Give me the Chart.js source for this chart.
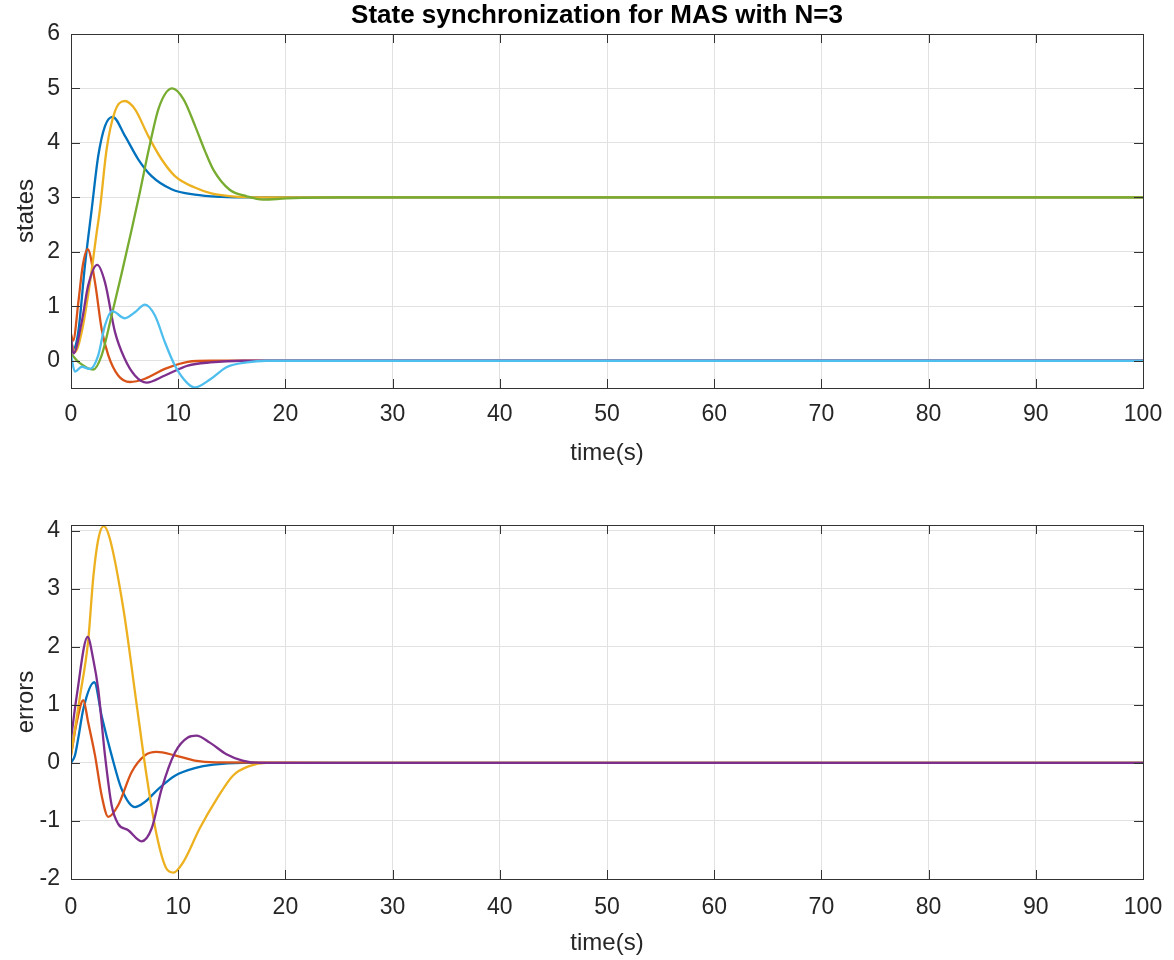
<!DOCTYPE html>
<html>
<head>
<meta charset="utf-8">
<script src="https://cdn.jsdelivr.net/npm/chart.js@4.4.1/dist/chart.umd.min.js"></script>
<style>
    html, body { margin: 0; padding: 0; background: #fff; overflow: hidden; }
    .panel { position: absolute; left: 0; width: 1174px; }
    #top-panel { top: 0; height: 480px; }
    #bottom-panel { top: 490px; height: 470px; }
</style>
</head>
<body>
<div class="panel" id="top-panel"><canvas id="states"></canvas></div>
<div class="panel" id="bottom-panel"><canvas id="errors"></canvas></div>
<script>
// MATLAB default line colours
const colors = {
    blue: '#0072BD',
    red: '#D95319',
    yellow: '#EDB120',
    purple: '#7E2F8E',
    green: '#77AC30',
    cyan: '#4DBEEE'
};

const timeTicks = [0, 10, 20, 30, 40, 50, 60, 70, 80, 90, 100];

// top panel: agent states
const s1Time = [0, 0.2, 0.68, 1.3, 1.93, 2.54, 3.17, 3.88, 5.03, 6.27, 7.52, 9.38, 11.55, 14, 17, 25, 100];
const s1Vals = [0.4, 0.22, 0.53, 1.75, 2.78, 3.76, 4.31, 4.48, 4.13, 3.70, 3.39, 3.15, 3.05, 3.01, 3.0, 3.0, 3.0];

const s2Time = [0, 0.37, 1.0, 1.77, 2.4, 2.7, 3.32, 4.1, 5.03, 5.96, 7.2, 8.45, 9.7, 11.55, 13, 15, 18, 25, 100];
const s2Vals = [0.35, 0.16, 0.53, 1.44, 2.36, 2.78, 3.88, 4.58, 4.77, 4.62, 4.13, 3.70, 3.39, 3.18, 3.08, 3.02, 3.0, 3.0, 3.0];

const s3Time = [0, 0.68, 2.08, 2.86, 3.79, 4.72, 5.65, 6.43, 7.3, 8.2, 9.44, 10.5, 11.6, 12.5, 13.3, 14.8, 16.4, 17.9, 20.1, 25, 100];
const s3Vals = [0.13, -0.02, -0.16, 0.1, 0.83, 1.6, 2.4, 3.1, 3.92, 4.65, 5.0, 4.8, 4.3, 3.85, 3.5, 3.14, 3.02, 2.96, 2.98, 3.0, 3.0];

const s4Time = [0, 0.2, 0.7, 1.1, 1.55, 2.24, 2.86, 3.48, 4.4, 5.5, 6.9, 8.76, 10.9, 13, 25, 100];
const s4Vals = [0.49, 0.37, 1.1, 1.75, 2.05, 1.44, 0.58, 0.1, -0.27, -0.39, -0.33, -0.15, -0.02, 0, 0, 0];

const s5Time = [0, 0.22, 1.0, 1.6, 2.45, 3.17, 4.1, 5.0, 5.96, 7.05, 8.76, 10.9, 13, 16, 25, 100];
const s5Vals = [0.4, 0.13, 0.71, 1.38, 1.76, 1.44, 0.53, 0.04, -0.27, -0.40, -0.27, -0.09, -0.03, 0, 0, 0];

const s6Time = [0, 0.37, 1.0, 1.77, 2.54, 3.17, 3.85, 5.03, 5.96, 6.9, 7.83, 8.76, 9.7, 10.9, 11.55, 13, 14.5, 16.4, 18.2, 25, 100];
const s6Vals = [0.1, -0.2, -0.11, -0.15, 0.1, 0.65, 0.91, 0.78, 0.89, 1.03, 0.83, 0.34, -0.09, -0.42, -0.49, -0.34, -0.12, -0.03, 0, 0, 0];

// bottom panel: synchronization errors
const e1Time = [0, 0.37, 0.7, 1.15, 2.17, 2.86, 3.79, 4.72, 5.96, 6.9, 8.14, 9.7, 11.55, 13.3, 16, 25, 100];
const e1Vals = [0, 0.13, 0.45, 0.93, 1.39, 0.81, 0.13, -0.45, -0.76, -0.67, -0.45, -0.22, -0.09, -0.03, 0, 0, 0];

const e2Time = [0, 0.53, 1.15, 1.6, 2.24, 2.86, 3.48, 4.4, 5.65, 6.9, 7.98, 9.7, 11.55, 13.5, 25, 100];
const e2Vals = [0.13, 0.7, 1.08, 0.7, 0.13, -0.56, -0.93, -0.73, -0.16, 0.13, 0.19, 0.13, 0.04, 0.01, 0, 0];

const e3Time = [0, 0.84, 1.6, 2.08, 2.54, 3.05, 3.6, 4.9, 6.1, 7.05, 8.0, 8.9, 9.55, 10.5, 12, 13.6, 15.1, 16.7, 18.2, 25, 100];
const e3Vals = [0.13, 1.15, 2.1, 3.2, 3.85, 4.08, 3.88, 2.64, 1.04, -0.22, -1.25, -1.82, -1.89, -1.7, -1.13, -0.62, -0.22, -0.05, 0, 0, 0];

const e4Time = [0, 0.53, 1.55, 2.08, 2.54, 3.17, 3.79, 4.4, 5.34, 6.58, 7.52, 8.45, 9.7, 10.9, 11.7, 12.95, 14.5, 16, 17.6, 25, 100];
const e4Vals = [0.41, 1.15, 2.17, 1.78, 1.27, 0.13, -0.73, -1.05, -1.16, -1.35, -1.13, -0.45, 0.18, 0.44, 0.47, 0.35, 0.15, 0.04, 0, 0, 0];

const FONT = "'Liberation Sans', Arial, Helvetica, sans-serif";
const TEXT_COLOR = '#262626';

function toPoints(times, values) {
    return times.map((t, i) => ({ x: t, y: values[i] }));
}

// plotIndex mirrors MATLAB's plotting order: later lines sit on top
function series(times, values, color, plotIndex) {
    return {
        data: toPoints(times, values),
        borderColor: color,
        borderWidth: 2.3,
        pointRadius: 0,
        fill: false,
        cubicInterpolationMode: 'monotone',
        order: -plotIndex
    };
}

// box around the axes, inward ticks on all four sides, optional title
const matlabAxes = {
    id: 'matlabAxes',
    afterDraw(chart, args, opts) {
        const { ctx, chartArea, scales } = chart;
        const { left, top, right, bottom } = chartArea;
        const len = 9;
        ctx.save();
        ctx.strokeStyle = '#333';
        ctx.lineWidth = 1;
        ctx.strokeRect(Math.round(left) + 0.5, Math.round(top) + 0.5, Math.round(right - left), Math.round(bottom - top));

        ctx.beginPath();
        for (const tick of scales.x.ticks) {
            const px = Math.round(scales.x.getPixelForValue(tick.value)) + 0.5;
            ctx.moveTo(px, bottom);
            ctx.lineTo(px, bottom - len);
            ctx.moveTo(px, top);
            ctx.lineTo(px, top + len);
        }
        for (const tick of scales.y.ticks) {
            const py = Math.round(scales.y.getPixelForValue(tick.value)) + 0.5;
            ctx.moveTo(left, py);
            ctx.lineTo(left + len, py);
            ctx.moveTo(right, py);
            ctx.lineTo(right - len, py);
        }
        ctx.stroke();

        if (opts.text) {
            ctx.fillStyle = '#000';
            ctx.font = `bold 26px ${FONT}`;
            ctx.textAlign = 'center';
            ctx.textBaseline = 'middle';
            ctx.fillText(opts.text, (left + right) / 2 - 10, 16);
        }
        ctx.restore();
    }
};

function createPanel(canvas, { datasets, yMin, yMax, yLabel, title, padTop, xAxisHeight, tickPad, xTitlePad }) {
    return new Chart(canvas, {
        type: 'line',
        data: { datasets },
        options: {
            responsive: true,
            maintainAspectRatio: false,
            animation: false,
            layout: {
                padding: { left: 0, right: 31, top: padTop, bottom: 0 }
            },
            plugins: {
                legend: { display: false },
                tooltip: { enabled: false },
                title: { display: false },
                matlabAxes: { text: title }
            },
            scales: {
                x: {
                    type: 'linear',
                    min: 0,
                    max: 100,
                    afterFit: (scale) => {
                        // keep the plot box fixed: labels may overhang the padding
                        scale.height = xAxisHeight;
                        scale.paddingLeft = 0;
                        scale.paddingRight = 0;
                    },
                    afterBuildTicks: (scale) => {
                        scale.ticks = timeTicks.map((value) => ({ value }));
                    },
                    grid: { color: '#e1e1e1', drawTicks: false },
                    border: { display: false },
                    ticks: {
                        padding: tickPad,
                        color: TEXT_COLOR,
                        font: { family: FONT, size: 23 },
                        maxRotation: 0
                    },
                    title: {
                        display: true,
                        text: 'time(s)',
                        color: TEXT_COLOR,
                        font: { family: FONT, size: 24 },
                        padding: { top: 0, bottom: xTitlePad }
                    }
                },
                y: {
                    min: yMin,
                    max: yMax,
                    afterFit: (scale) => { scale.width = 71; },
                    grid: { color: '#e1e1e1', drawTicks: false },
                    border: { display: false },
                    ticks: {
                        stepSize: 1,
                        includeBounds: false,
                        padding: 11,
                        color: TEXT_COLOR,
                        font: { family: FONT, size: 23 }
                    },
                    title: {
                        display: true,
                        text: yLabel,
                        color: TEXT_COLOR,
                        font: { family: FONT, size: 24 },
                        padding: { top: 12, bottom: 0 }
                    }
                }
            }
        },
        plugins: [matlabAxes]
    });
}

createPanel(document.getElementById('states'), {
    datasets: [
        series(s1Time, s1Vals, colors.blue, 1),
        series(s4Time, s4Vals, colors.red, 2),
        series(s2Time, s2Vals, colors.yellow, 3),
        series(s5Time, s5Vals, colors.purple, 4),
        series(s3Time, s3Vals, colors.green, 5),
        series(s6Time, s6Vals, colors.cyan, 6)
    ],
    yMin: -0.5,
    yMax: 6,
    yLabel: 'states',
    title: 'State synchronization for MAS with N=3',
    padTop: 34,
    xAxisHeight: 92,
    tickPad: 13,
    xTitlePad: 12
});

createPanel(document.getElementById('errors'), {
    datasets: [
        series(e1Time, e1Vals, colors.blue, 1),
        series(e2Time, e2Vals, colors.red, 2),
        series(e3Time, e3Vals, colors.yellow, 3),
        series(e4Time, e4Vals, colors.purple, 4)
    ],
    yMin: -2,
    yMax: 4.1,
    yLabel: 'errors',
    title: '',
    padTop: 35,
    xAxisHeight: 81,
    tickPad: 15,
    xTitlePad: 2
});
</script>
</body>
</html>
